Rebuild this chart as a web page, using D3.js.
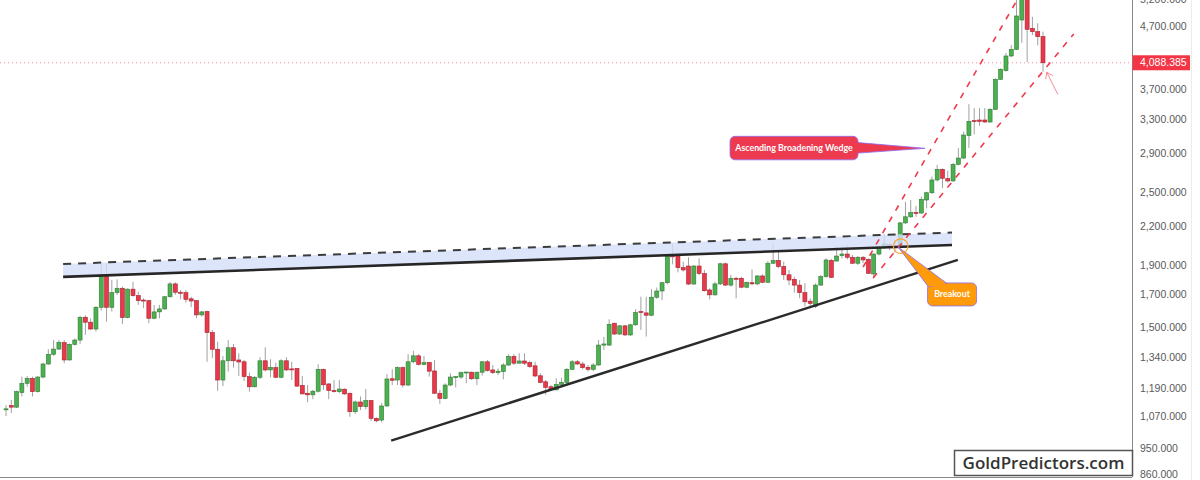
<!DOCTYPE html>
<html>
<head>
<meta charset="utf-8">
<script src="https://cdn.jsdelivr.net/npm/d3@7"></script>
<style>
body { margin: 0; background: #fff; }
svg { display: block; font-family: "Liberation Sans", Arial, sans-serif; }
</style>
</head>
<body>
<div id="chart"></div>
<script>
// gold candles, oldest first
var opens = [1100,
  1115,1108,1171,1213,1236,1175,1242,1305,1354,1381,1415,1325,1406,1429,1558,1529,1490,1618,1822,1618,
  1710,1739,1556,1733,1691,1663,1659,1552,1590,1608,1684,1768,1713,1710,1671,1659,1572,1592,1470,1380,
  1228,1321,1388,1325,1316,1244,1197,1241,1321,1276,1287,1241,1321,1281,1283,1203,1168,1161,1177,1279,
  1210,1180,1175,1186,1168,1089,1130,1110,1136,1062,1055,1113,1234,1228,1287,1205,1316,1346,1303,1312,
  1271,1168,1145,1205,1242,1242,1263,1265,1234,1265,1316,1276,1263,1268,1300,1343,1309,1320,1312,1296,
  1248,1220,1197,1183,1208,1217,1279,1316,1305,1289,1279,1300,1402,1402,1523,1462,1508,1457,1514,1592,
  1584,1570,1681,1721,1776,1968,1965,1880,1892,1767,1892,1840,1728,1696,1768,1908,1760,1806,1806,1746,
  1776,1768,1822,1779,1912,1932,1889,1830,1799,1760,1710,1656,1623,1760,1817,1932,1928,1968,1980,1956,
  1912,1956,1940,1836,1980,2032,2052,2036,2034,2228,2280,2318,2313,2430,2498,2622,2730,2635,2612,2782,
  2849,3103,3283,3291,3291,3266,3427,3840,3968,4195,4302,4808,5420,4659,4600,4514];
var highs = [1117,
  1139,1180,1244,1247,1244,1247,1312,1380,1429,1429,1429,1411,1438,1566,1570,1552,1626,1916,1912,1794,
  1799,1750,1739,1782,1717,1674,1663,1632,1632,1688,1782,1779,1728,1728,1684,1663,1596,1598,1485,1420,
  1345,1429,1408,1359,1325,1263,1247,1339,1390,1329,1312,1329,1339,1316,1285,1247,1205,1183,1304,1282,
  1213,1228,1228,1190,1171,1136,1154,1187,1139,1066,1125,1256,1279,1293,1293,1355,1372,1355,1345,1316,
  1325,1183,1213,1260,1247,1268,1266,1268,1268,1320,1325,1300,1284,1309,1355,1355,1359,1359,1321,1316,
  1260,1228,1205,1236,1239,1285,1325,1325,1316,1300,1309,1429,1446,1546,1526,1514,1514,1520,1606,1684,
  1684,1733,1744,1782,1973,2058,1980,1924,1956,1900,1948,1864,1739,1782,1916,1916,1829,1817,1817,1782,
  1868,1829,1834,1928,2062,1998,1924,1864,1817,1794,1773,1674,1771,1829,1948,1944,2036,2036,2050,1973,
  1965,1965,1948,1985,2043,2134,2062,2088,2236,2414,2430,2375,2461,2508,2656,2776,2740,2715,2796,2958,
  3149,3494,3443,3443,3443,3443,3855,4004,4242,4373,5300,5600,5500,4868,4748,4600];
var lows = [1071,
  1084,1104,1154,1197,1154,1171,1236,1300,1346,1376,1309,1322,1400,1408,1457,1485,1476,1598,1532,1592,
  1696,1519,1552,1684,1633,1613,1523,1546,1552,1602,1678,1696,1667,1646,1620,1552,1562,1316,1334,1179,
  1200,1268,1287,1247,1224,1175,1194,1233,1268,1241,1236,1236,1271,1228,1197,1164,1129,1142,1171,1183,
  1142,1171,1168,1161,1068,1080,1096,1099,1052,1046,1046,1110,1205,1205,1194,1200,1309,1298,1298,1244,
  1165,1122,1142,1200,1194,1233,1213,1228,1205,1249,1268,1256,1251,1231,1295,1300,1307,1300,1285,1241,
  1213,1161,1179,1180,1205,1213,1276,1300,1279,1268,1271,1297,1376,1397,1457,1457,1451,1451,1508,1485,
  1448,1564,1671,1663,1764,1904,1847,1852,1760,1764,1828,1717,1667,1691,1760,1754,1750,1674,1739,1739,
  1760,1760,1773,1773,1908,1878,1794,1760,1710,1674,1623,1618,1613,1754,1810,1810,1924,1948,1940,1906,
  1900,1912,1836,1806,1970,2018,2011,1990,2028,2219,2270,2280,2305,2355,2486,2605,2542,2596,2605,2772,
  2838,2961,3117,3220,3257,3257,3418,3830,3953,4175,4291,4408,4100,4543,4370,3952];
var closes = [1101,
  1108,1175,1213,1236,1175,1242,1305,1354,1381,1417,1325,1406,1429,1558,1529,1490,1618,1822,1618,1710,
  1739,1556,1733,1691,1659,1659,1552,1590,1608,1684,1768,1713,1706,1667,1657,1572,1590,1470,1380,1228,
  1321,1388,1321,1315,1244,1197,1241,1321,1276,1289,1241,1321,1276,1276,1200,1165,1161,1177,1279,1206,
  1180,1175,1187,1165,1089,1130,1110,1136,1062,1052,1113,1233,1227,1287,1205,1316,1346,1303,1312,1270,
  1168,1145,1205,1242,1244,1263,1266,1234,1265,1316,1273,1263,1270,1300,1343,1309,1320,1309,1292,1247,
  1217,1194,1183,1208,1217,1279,1316,1305,1287,1279,1300,1402,1408,1517,1462,1508,1457,1514,1586,1586,
  1570,1681,1721,1776,1965,1959,1880,1864,1767,1892,1840,1723,1696,1768,1908,1760,1806,1801,1746,1779,
  1768,1822,1779,1912,1932,1889,1830,1794,1760,1710,1652,1642,1760,1817,1936,1812,1965,1980,1956,1912,
  1956,1936,1840,1980,2032,2058,2036,2034,2228,2280,2318,2313,2436,2498,2622,2730,2639,2612,2782,2849,
  3109,3275,3270,3275,3266,3427,3840,3989,4195,4302,4882,5420,4641,4600,4514,4088.385];

var priceTicks = [860, 950, 1070, 1190, 1340, 1500, 1700, 1900, 2200, 2500, 2900, 3300, 3700, 4700, 5200];
var lastPrice = 4088.385;

// drawings, as [candle index, price]
var resistanceTop = [[10.8, 1907], [178.8, 2148]];
var resistanceBottom = [[10.8, 1816], [178.8, 2049]];
var supportLine = [[72.8, 976], [179.9, 1936]];
var channelUpper = [[162.0, 1885], [191.1, 5187]];
var channelLower = [[163.9, 1808], [201.8, 4560]];
var wedgeTip = [173.7, 2956];
var breakoutTip = [168.6, 2034];
var breakoutCircle = [169.1, 2040];
var arrowTip = [196.7, 3945];
var arrowTail = [198.8, 3626];

var width = 1200, height = 480, axisX = 1132, bottomY = 477;

var svg = d3.select("#chart").append("svg")
    .attr("width", width)
    .attr("height", height);

svg.append("rect").attr("width", width).attr("height", height).attr("fill", "#ffffff");

var x = d3.scaleLinear().domain([0, opens.length - 1]).range([6, 1043]);
var y = d3.scaleLog().domain([860, 4700]).range([474, 26]);

var candles = opens.map(function (o, i) {
    return {i: i, o: o, h: highs[i], l: lows[i], c: closes[i]};
});

svg.append("defs").append("clipPath").attr("id", "plot")
    .append("rect").attr("x", 0).attr("y", 0).attr("width", axisX).attr("height", bottomY);

var plot = svg.append("g").attr("clip-path", "url(#plot)");

// last price dotted line
plot.append("line")
    .attr("x1", 0).attr("x2", axisX)
    .attr("y1", y(lastPrice)).attr("y2", y(lastPrice))
    .attr("stroke", "#f48b96")
    .attr("stroke-width", 1)
    .attr("stroke-dasharray", "1,3");

var candle = plot.selectAll(".candle")
    .data(candles)
    .enter()
    .append("g")
    .attr("class", "candle");

candle.append("line")
    .attr("x1", function (d) { return x(d.i); })
    .attr("x2", function (d) { return x(d.i); })
    .attr("y1", function (d) { return y(d.h); })
    .attr("y2", function (d) { return y(d.l); })
    .attr("stroke", "#a0a0a0")
    .attr("stroke-width", 1);

candle.append("rect")
    .attr("x", function (d) { return x(d.i) - 2; })
    .attr("width", 4)
    .attr("y", function (d) { return y(Math.max(d.o, d.c)); })
    .attr("height", function (d) { return Math.max(1, Math.abs(y(d.o) - y(d.c))); })
    .attr("fill", function (d) { return d.c >= d.o ? "#4caf50" : "#e8394a"; })
    .attr("stroke", function (d) { return d.c >= d.o ? "#2f7d33" : "#a8222f"; })
    .attr("stroke-width", 0.6);

function pt(p) { return [x(p[0]), y(p[1])]; }

// resistance zone
plot.append("path")
    .attr("d", d3.line()(resistanceTop.concat(resistanceBottom.slice().reverse()).map(pt)) + "Z")
    .attr("fill", "#d4defa")
    .attr("opacity", 0.8);

plot.append("path")
    .attr("d", d3.line()(resistanceTop.map(pt)))
    .attr("stroke", "#3c3c3c")
    .attr("stroke-width", 2)
    .attr("stroke-dasharray", "8,7")
    .attr("fill", "none");

plot.append("path")
    .attr("d", d3.line()(resistanceBottom.map(pt)))
    .attr("stroke", "#262626")
    .attr("stroke-width", 2.6)
    .attr("fill", "none");

plot.append("path")
    .attr("d", d3.line()(supportLine.map(pt)))
    .attr("stroke", "#2b2b2b")
    .attr("stroke-width", 2.4)
    .attr("fill", "none");

// broadening wedge channel
[channelUpper, channelLower].forEach(function (ln) {
    plot.append("path")
        .attr("d", d3.line()(ln.map(pt)))
        .attr("stroke", "#f0394d")
        .attr("stroke-width", 1.6)
        .attr("stroke-dasharray", "6,7")
        .attr("fill", "none");
});

// breakout circle
plot.append("circle")
    .attr("cx", x(breakoutCircle[0]))
    .attr("cy", y(breakoutCircle[1]))
    .attr("r", 7.3)
    .attr("fill", "none")
    .attr("stroke", "#ffa531")
    .attr("stroke-width", 1.2);

// little arrow under the last candle
var at = pt(arrowTip), al = pt(arrowTail);
plot.append("line")
    .attr("x1", al[0]).attr("y1", al[1]).attr("x2", at[0]).attr("y2", at[1])
    .attr("stroke", "#f48b96").attr("stroke-width", 1);
plot.append("path")
    .attr("d", "M" + (at[0] - 1) + "," + (at[1] + 7) + "L" + at[0] + "," + at[1] + "L" + (at[0] + 6) + "," + (at[1] + 3.5))
    .attr("stroke", "#f48b96").attr("stroke-width", 1).attr("fill", "none");

// callout: Ascending Broadening Wedge
var wt = pt(wedgeTip);
var wedge = plot.append("g");
wedge.append("path")
    .attr("d", "M" + (wt[0] - 70) + "," + (wt[1] - 6) + "L" + wt[0] + "," + wt[1] + "L" + (wt[0] - 70) + "," + (wt[1] + 5) + "Z")
    .attr("fill", "#ee3a4e")
    .attr("stroke", "#8d6cf0")
    .attr("stroke-width", 0.8);
wedge.append("rect")
    .attr("x", wt[0] - 195).attr("y", wt[1] - 12)
    .attr("width", 128).attr("height", 23.5)
    .attr("rx", 5)
    .attr("fill", "#ee3a4e")
    .attr("stroke", "#8d6cf0")
    .attr("stroke-width", 0.8);
wedge.append("rect")
    .attr("x", wt[0] - 70).attr("y", wt[1] - 5.4)
    .attr("width", 4).attr("height", 9.8)
    .attr("fill", "#ee3a4e");
wedge.append("text")
    .attr("x", wt[0] - 131).attr("y", wt[1] + 3)
    .attr("text-anchor", "middle")
    .attr("fill", "#ffffff")
    .attr("font-family", "Lato, sans-serif")
    .attr("font-weight", 700)
    .attr("font-size", "8.8px")
    .text("Ascending Broadening Wedge");

// callout: Breakout
var bt = pt(breakoutTip);
var brk = plot.append("g");
brk.append("rect")
    .attr("x", bt[0] + 29.5).attr("y", bt[1] + 36)
    .attr("width", 49).attr("height", 23)
    .attr("rx", 5)
    .attr("fill", "#ff9a0a")
    .attr("stroke", "#8d6cf0")
    .attr("stroke-width", 0.8);
brk.append("path")
    .attr("d", "M" + bt[0] + "," + bt[1] + "L" + (bt[0] + 30.5) + "," + (bt[1] + 40) + "L" + (bt[0] + 49) + "," + (bt[1] + 36.6) + "Z")
    .attr("fill", "#ff9a0a")
    .attr("stroke", "#8d6cf0")
    .attr("stroke-width", 0.8);
brk.append("path")
    .attr("d", "M" + (bt[0] + 31) + "," + (bt[1] + 38) + "L" + (bt[0] + 48) + "," + (bt[1] + 38))
    .attr("stroke", "#ff9a0a")
    .attr("stroke-width", 3);
brk.append("text")
    .attr("x", bt[0] + 54).attr("y", bt[1] + 50.5)
    .attr("text-anchor", "middle")
    .attr("fill", "#ffffff")
    .attr("font-family", "Lato, sans-serif")
    .attr("font-weight", 700)
    .attr("font-size", "8.8px")
    .text("Breakout");

// price axis on the right
svg.append("line")
    .attr("x1", axisX + 0.5).attr("x2", axisX + 0.5)
    .attr("y1", 0).attr("y2", bottomY)
    .attr("stroke", "#8a8a8a");
svg.append("line")
    .attr("x1", 0).attr("x2", axisX)
    .attr("y1", bottomY + 0.5).attr("y2", bottomY + 0.5)
    .attr("stroke", "#8a8a8a");
svg.append("line")
    .attr("x1", 1191.5).attr("x2", 1191.5)
    .attr("y1", 0).attr("y2", height)
    .attr("stroke", "#ececec");

var yAxis = d3.axisRight(y)
    .tickValues(priceTicks)
    .tickSize(0)
    .tickPadding(8)
    .tickFormat(d3.format(",.3f"));

var axisG = svg.append("g")
    .attr("transform", "translate(" + axisX + ",0)")
    .call(yAxis);
axisG.select(".domain").remove();
axisG.selectAll("text")
    .attr("fill", "#5a5a5a")
    .attr("font-family", "Liberation Sans, Arial, sans-serif")
    .attr("font-size", "10.5px");

// last price label
svg.append("rect")
    .attr("x", axisX + 0.5).attr("y", y(lastPrice) - 7.5)
    .attr("width", 57.5).attr("height", 15)
    .attr("fill", "#f23645");
svg.append("text")
    .attr("x", axisX + 8).attr("y", y(lastPrice))
    .attr("dy", "0.35em")
    .attr("fill", "#ffffff")
    .attr("font-size", "10.5px")
    .text(d3.format(",.3f")(lastPrice));

// watermark box
svg.append("rect")
    .attr("x", 954.5).attr("y", 450.5)
    .attr("width", 178).attr("height", 25)
    .attr("fill", "#ffffff")
    .attr("stroke", "#555555")
    .attr("stroke-width", 1.5);
svg.append("text")
    .attr("x", 1043.5).attr("y", 469)
    .attr("text-anchor", "middle")
    .attr("fill", "#333333")
    .attr("font-family", "Open Sans, sans-serif")
    .attr("font-weight", 600)
    .attr("font-size", "17px")
    .text("GoldPredictors.com");
</script>
</body>
</html>
